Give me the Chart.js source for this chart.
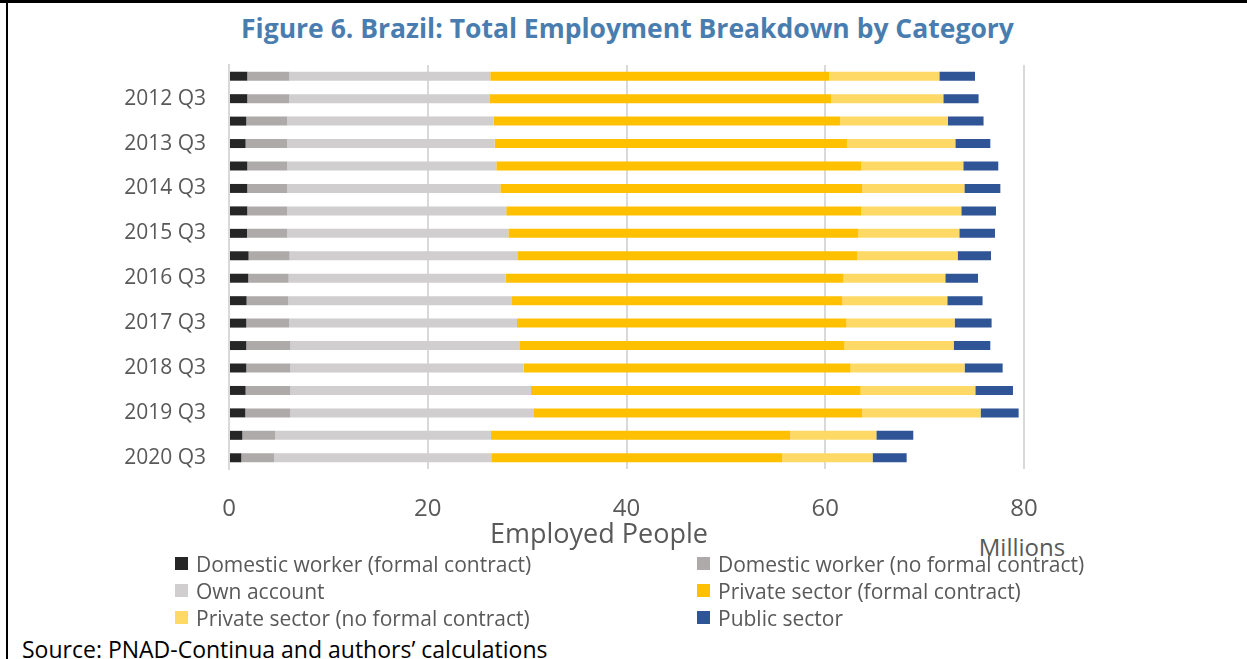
<!DOCTYPE html>
<html lang="en">
<head>
    <meta charset="UTF-8">
    <title>Brazil: Total Employment Breakdown by Category</title>
    <script src="https://cdn.jsdelivr.net/npm/chart.js"></script>
    <style>
        html, body { margin: 0; padding: 0; background: #fff; }
        body { width: 1247px; height: 659px; position: relative; overflow: hidden; font-family: "Open Sans", sans-serif; }
        .frame-top { position: absolute; left: 0; top: 0; width: 1247px; height: 3px; background: #000; }
        .frame-left { position: absolute; left: 6px; top: 0; width: 2px; height: 659px; background: #000; }
        .title { position: absolute; left: 4px; width: 1247px; top: 10px; text-align: center; font-weight: 700; font-size: 26.5px; color: #4A7DAF; white-space: nowrap; }
        .chart-container { position: absolute; left: 0; top: 0; width: 1247px; height: 530px; }
        .axis-title { position: absolute; top: 514px; left: 399px; width: 400px; text-align: center; font-size: 27px; color: #595959; }
        .units { position: absolute; top: 530px; left: 922px; width: 200px; text-align: center; font-size: 24px; color: #595959; }
        .legend { position: absolute; left: 175px; top: 550px; display: grid; grid-template-columns: 522px 400px; row-gap: 0; }
        .legend-item { display: flex; align-items: center; height: 27px; font-size: 21px; color: #595959; white-space: nowrap; }
        .legend-box { width: 13px; height: 13px; margin-right: 8px; flex: none; }
        .source { position: absolute; left: 22px; top: 633px; font-size: 23px; color: #000; white-space: nowrap; }
    </style>
</head>
<body>

    <div class="frame-top"></div>
    <div class="frame-left"></div>

    <!-- Title -->
    <div class="title">Figure 6. Brazil: Total Employment Breakdown by Category</div>

    <!-- Chart -->
    <div class="chart-container">
        <canvas id="employmentChart"></canvas>
    </div>

    <div class="axis-title">Employed People</div>
    <div class="units">Millions</div>

    <!-- Legend (built from the datasets) -->
    <div class="legend" id="legend"></div>

    <div class="source">Source: PNAD-Continua and authors’ calculations</div>

    <script>
        // Half-year periods, top to bottom
        const periods = ['2012 Q1', '2012 Q3', '2013 Q1', '2013 Q3', '2014 Q1', '2014 Q3',
                         '2015 Q1', '2015 Q3', '2016 Q1', '2016 Q3', '2017 Q1', '2017 Q3',
                         '2018 Q1', '2018 Q3', '2019 Q1', '2019 Q3', '2020 Q1', '2020 Q3'];

        // Employed people by category (millions)
        const domesticFormal   = [1.84, 1.84, 1.74, 1.67, 1.84, 1.84, 1.84, 1.81, 1.97, 1.94, 1.77, 1.74, 1.74, 1.74, 1.67, 1.64, 1.34, 1.24];
        const domesticInformal = [4.23, 4.23, 4.13, 4.17, 4.03, 4.03, 4.03, 4.06, 4.13, 4.06, 4.20, 4.33, 4.43, 4.43, 4.50, 4.53, 3.32, 3.29];
        const ownAccount       = [20.22, 20.19, 20.76, 20.89, 21.03, 21.43, 22.03, 22.24, 22.91, 21.83, 22.51, 22.91, 23.04, 23.48, 24.22, 24.52, 21.70, 21.86];
        const privateFormal    = [34.12, 34.35, 34.85, 35.46, 36.73, 36.43, 35.73, 35.22, 34.22, 34.01, 33.25, 33.16, 32.73, 32.89, 33.17, 33.04, 30.12, 29.29];
        const privateInformal  = [11.07, 11.27, 10.87, 10.90, 10.26, 10.27, 10.06, 10.16, 10.09, 10.24, 10.55, 10.88, 10.98, 11.48, 11.54, 11.90, 8.66, 9.08];
        const publicSector     = [3.59, 3.55, 3.58, 3.52, 3.52, 3.62, 3.49, 3.59, 3.36, 3.29, 3.55, 3.72, 3.69, 3.83, 3.79, 3.83, 3.72, 3.43];

        const xTicks = [0, 20, 40, 60, 80];

        const series = [
            { label: 'Domestic worker (formal contract)',    data: domesticFormal,   color: '#262626' },
            { label: 'Domestic worker (no formal contract)', data: domesticInformal, color: '#AEAAAA' },
            { label: 'Own account',                          data: ownAccount,       color: '#D0CECE' },
            { label: 'Private sector (formal contract)',     data: privateFormal,    color: '#FFC000' },
            { label: 'Private sector (no formal contract)',  data: privateInformal,  color: '#FFD966' },
            { label: 'Public sector',                        data: publicSector,     color: '#2F5597' }
        ];

        const textGrey = '#595959';
        const gridGrey = '#D9D9D9';

        const ctx = document.getElementById('employmentChart').getContext('2d');
        const employmentChart = new Chart(ctx, {
            type: 'bar',
            data: {
                labels: periods,
                datasets: series.map(s => ({
                    label: s.label,
                    data: s.data,
                    backgroundColor: s.color,
                    borderWidth: 0,
                    categoryPercentage: 0.8,
                    barPercentage: 0.5
                }))
            },
            options: {
                indexAxis: 'y',
                responsive: true,
                maintainAspectRatio: false,
                animation: false,
                layout: {
                    padding: { top: 65, right: 223, bottom: 0, left: 0 }
                },
                plugins: {
                    legend: { display: false },
                    tooltip: { enabled: false }
                },
                scales: {
                    x: {
                        stacked: true,
                        min: xTicks[0],
                        max: xTicks[xTicks.length - 1],
                        afterBuildTicks: (axis) => { axis.ticks = xTicks.map(v => ({ value: v })); },
                        afterFit: (axis) => { axis.height = 61; },
                        grid: { color: gridGrey, lineWidth: 2, drawTicks: false },
                        border: { display: false },
                        ticks: {
                            color: textGrey,
                            padding: 26,
                            font: { family: 'Open Sans', size: 24 }
                        }
                    },
                    y: {
                        stacked: true,
                        afterFit: (axis) => { axis.width = 229; },
                        grid: { display: false, drawTicks: false },
                        border: { display: true, color: gridGrey, width: 2 },
                        ticks: {
                            autoSkip: false,
                            color: textGrey,
                            padding: 23,
                            font: { family: 'Open Sans', size: 21 },
                            // only the Q3 periods are labelled
                            callback: function(value, index) {
                                return index % 2 === 1 ? this.getLabelForValue(value) : '';
                            }
                        }
                    }
                }
            }
        });

        // Two-column legend
        const legendEl = document.getElementById('legend');
        employmentChart.data.datasets.forEach(ds => {
            const item = document.createElement('div');
            item.className = 'legend-item';
            item.innerHTML = `<span class="legend-box" style="background:${ds.backgroundColor}"></span>${ds.label}`;
            legendEl.appendChild(item);
        });
    </script>

</body>
</html>
